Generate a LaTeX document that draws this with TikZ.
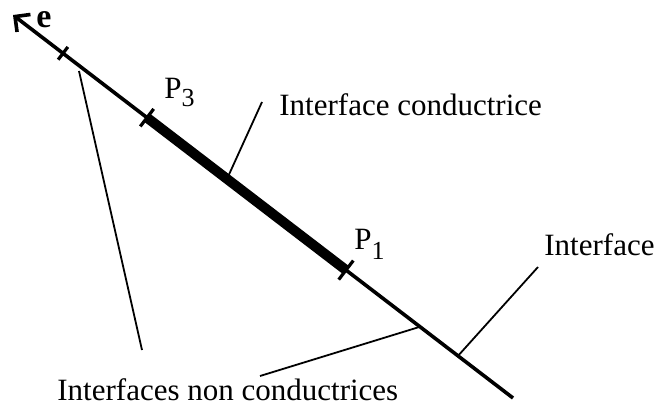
\documentclass[tikz,border=0pt]{standalone}
\usepackage{fontspec}
\setmainfont{Liberation Serif}
\usetikzlibrary{calc,arrows.meta}

\begin{document}
\begin{tikzpicture}[
    x=0.5pt, y=-0.5pt,
    axis line/.style={line width=1.8pt},
    cond line/.style={line width=5pt},
    tick mark/.style={line width=1.6pt},
    leader line/.style={line width=0.9pt},
    lbl node/.style={inner sep=0pt, anchor=base west, font=\fontsize{15.5}{18}\selectfont}
]
\useasboundingbox (0,0) rectangle (657,407);

% axe e et points sur l'axe
\coordinate (E0) at (13,15);
\coordinate (E1) at (513,398);
\coordinate (T0) at ($(E0)!0.10!(E1)$);
\coordinate (T3) at ($(E0)!0.268!(E1)$);
\coordinate (T1) at ($(E0)!0.666!(E1)$);
\coordinate (Lc) at ($(E0)!0.428!(E1)$);
\coordinate (Li) at ($(E0)!0.89!(E1)$);
\coordinate (Ln) at ($(E0)!0.814!(E1)$);
\coordinate (Lt) at (79,71);

% extremites des traits de rappel
\coordinate (Ac) at (262,102);
\coordinate (Ai) at (538,267);
\coordinate (An1) at (142,350);
\coordinate (An2) at (260,376);

% etiquettes
\node[lbl node, font=\fontsize{17}{18}\selectfont\bfseries] (e) at (36,27) {e};
\node[lbl node] (P3) at (164,98) {P\raisebox{-4pt}{\fontsize{13}{13}\selectfont 3}};
\node[lbl node] (P1) at (354,249) {P\raisebox{-5pt}{\fontsize{13}{13}\selectfont 1}};
\node[lbl node] (cond) at (279,115) {Interface conductrice};
\node[lbl node] (intf) at (544,255) {Interface};
\node[lbl node] (noncond) at (57,400) {Interfaces non conductrices};

% traits de rappel
\draw[leader line] (Lc) -- (Ac);
\draw[leader line] (Li) -- (Ai);
\draw[leader line] (Lt) -- (An1);
\draw[leader line] (Ln) -- (An2);

% axe, partie conductrice et graduations
\draw[axis line, -{Straight Barb[length=5.5pt,width=11pt]}] (E1) -- (E0);
\draw[cond line] (T3) -- (T1);
\draw[tick mark] ($(T0)!4pt!90:(E1)$) -- ($(T0)!4pt!-90:(E1)$);
\draw[tick mark] ($(T3)!5.5pt!90:(E1)$) -- ($(T3)!5.5pt!-90:(E1)$);
\draw[tick mark] ($(T1)!6pt!90:(E1)$) -- ($(T1)!6pt!-90:(E1)$);

\end{tikzpicture}
\end{document}
